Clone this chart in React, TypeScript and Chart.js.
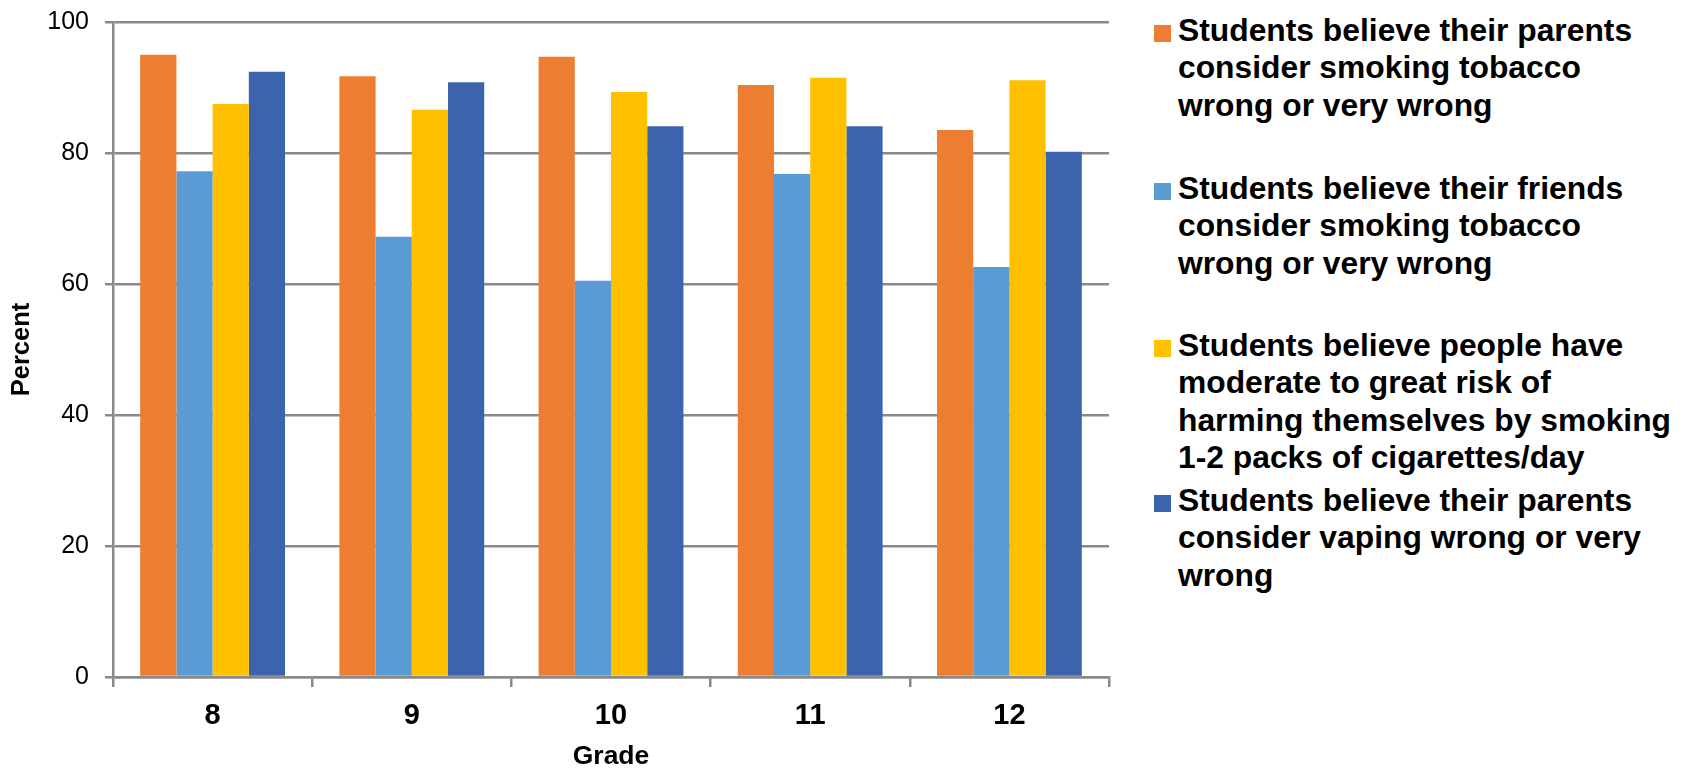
import React, { useEffect, useRef } from "react";
import { Chart, registerables } from "chart.js";

Chart.register(...registerables);

const grades = ["8", "9", "10", "11", "12"];
const parentsTobacco = [95.0, 91.7, 94.7, 90.4, 83.5];
const friendsTobacco = [77.2, 67.2, 60.5, 76.8, 62.6];
const riskSmoking = [87.5, 86.6, 89.3, 91.5, 91.1];
const parentsVaping = [92.4, 90.8, 84.1, 84.1, 80.2];

const seriesLabels = [
  ["Students believe their parents", "consider smoking tobacco", "wrong or very wrong"],
  ["Students believe their friends", "consider smoking tobacco", "wrong or very wrong"],
  [
    "Students believe people have",
    "moderate to great risk of",
    "harming themselves by smoking",
    "1-2 packs of cigarettes/day",
  ],
  ["Students believe their parents", "consider vaping wrong or very", "wrong"],
];
const seriesColors = ["#ED7D31", "#5B9BD5", "#FFC000", "#3B64AD"];
const yTicks = [0, 20, 40, 60, 80, 100];

const legendTops = [12, 170, 327, 482];

export default function App() {
  const canvasRef = useRef<HTMLCanvasElement | null>(null);

  useEffect(() => {
    const ctx = canvasRef.current!;
    const values = [parentsTobacco, friendsTobacco, riskSmoking, parentsVaping];
    const gridColor = "#8a8a8a";
    const chart = new Chart(ctx, {
      type: "bar",
      data: {
        labels: grades,
        datasets: values.map((v, i) => ({
          label: seriesLabels[i].join(" "),
          data: v,
          backgroundColor: seriesColors[i],
          borderWidth: 0,
          categoryPercentage: 0.727,
          barPercentage: 1.0,
        })),
      },
      options: {
        animation: false,
        responsive: false,
        maintainAspectRatio: false,
        layout: { padding: { left: 0, right: 31, top: 22, bottom: 0 } },
        plugins: {
          legend: { display: false },
          tooltip: { enabled: false },
        },
        scales: {
          x: {
            offset: true,
            grid: {
              display: true,
              drawOnChartArea: false,
              drawTicks: true,
              tickLength: 10,
              color: gridColor,
              lineWidth: 2.5,
              offset: true,
            },
            border: { display: true, color: gridColor, width: 2.5 },
            ticks: {
              color: "#000",
              padding: 12,
              font: { family: "Liberation Sans, Arial, sans-serif", size: 29, weight: "bold" },
            },
            title: {
              display: true,
              text: "Grade",
              color: "#000",
              padding: { top: 0, bottom: -3 },
              font: { family: "Liberation Sans, Arial, sans-serif", size: 26.5, weight: "bold" },
            },
            afterFit: (scale: any) => {
              scale.height = 93;
            },
          },
          y: {
            min: 0,
            max: 100,
            afterBuildTicks: (scale: any) => {
              scale.ticks = yTicks.map((v) => ({ value: v }));
            },
            grid: {
              color: gridColor,
              lineWidth: 2.5,
              tickLength: 8,
              drawTicks: true,
            },
            border: { display: true, color: gridColor, width: 2.5 },
            ticks: {
              color: "#000",
              padding: 16,
              font: { family: "Liberation Sans, Arial, sans-serif", size: 25 },
            },
            title: {
              display: true,
              text: "Percent",
              color: "#000",
              padding: { top: 7, bottom: 0 },
              font: { family: "Liberation Sans, Arial, sans-serif", size: 25.5, weight: "bold" },
            },
            afterFit: (scale: any) => {
              scale.width = 113;
              scale.paddingTop = 0;
              scale.paddingBottom = 0;
            },
          },
        },
      },
    });
    return () => chart.destroy();
  }, []);

  return (
    <div
      style={{
        position: "fixed",
        left: 0,
        top: 0,
        width: 1688,
        height: 770,
        background: "#fff",
        overflow: "hidden",
      }}
    >
      <canvas
        ref={canvasRef}
        width={1140}
        height={770}
        style={{ position: "absolute", left: 0, top: 0, width: 1140, height: 770 }}
      />
      {seriesLabels.map((lines, i) => (
        <div
          key={i}
          style={{
            position: "absolute",
            left: 1154,
            top: legendTops[i],
            fontFamily: "Liberation Sans, Arial, sans-serif",
            fontWeight: "bold",
            fontSize: 31.8,
            lineHeight: "37.3px",
            color: "#000",
            whiteSpace: "nowrap",
          }}
        >
          <span
            style={{
              position: "absolute",
              left: 0,
              top: 13,
              width: 17,
              height: 17,
              background: seriesColors[i],
            }}
          />
          <div style={{ marginLeft: 24 }}>
            {lines.map((l, j) => (
              <div key={j}>{l}</div>
            ))}
          </div>
        </div>
      ))}
    </div>
  );
}
